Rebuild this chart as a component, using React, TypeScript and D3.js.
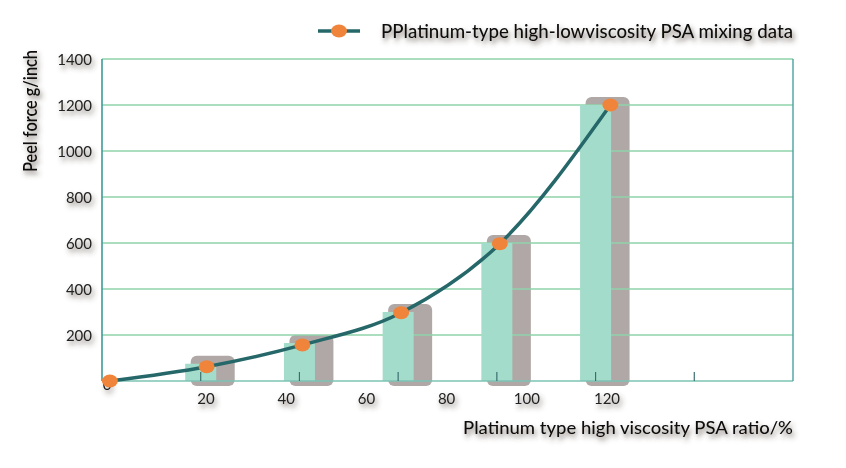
import * as d3 from "d3";

// bar heights (peel force g/inch) at category positions 1..5
const barValues = [75, 165, 300, 600, 1200];
// measured line points: x in category units, y in g/inch
const lineX = [0.08, 1.06, 2.03, 3.03, 4.03, 5.15];
const lineY = [0, 62, 157, 297, 597, 1200];
const xLabels = [20, 40, 60, 80, 100, 120];
const yTicks = [200, 400, 600, 800, 1000, 1200, 1400];
const tickSlots = [1, 2, 3, 4, 5, 6];

const W = 846;
const H = 468;
const FONT = "Lato, 'Liberation Sans', sans-serif";

export default function App() {
  const x = d3.scaleLinear().domain([0, 7]).range([102, 793]);
  const y = d3.scaleLinear().domain([0, 1400]).range([381, 59]);
  const xl = d3.scaleLinear().domain([20, 120]).range([206, 607]);

  const pts: [number, number][] = lineX.map((v, i) => [x(v), y(lineY[i])]);
  const line = d3.line().curve(d3.curveMonotoneX)(pts) || "";

  const bw = 31;

  return (
    <svg width={W} height={H} style={{ position: "absolute", left: 0, top: 0 }}>
      <defs>
        <filter id="ts" x="-20%" y="-40%" width="140%" height="200%">
          <feDropShadow dx="2" dy="3.5" stdDeviation="2.4" floodColor="#4a3a30" floodOpacity="0.7" />
        </filter>
      </defs>
      <rect width={W} height={H} fill="#fff" />

      {/* grey shadow boxes */}
      {barValues.map((v, i) => {
        const cx = x(i + 1);
        return (
          <rect key={"s" + i} x={cx - 10} y={y(v) - 8} width={44}
            height={y(0) + 5 - (y(v) - 8)} rx={6} fill="#b0a8a6" />
        );
      })}

      {/* gridlines */}
      {yTicks.map((t) => (
        <line key={t} x1={x(0)} x2={x(7)} y1={y(t)} y2={y(t)} stroke="#8fd3aa" strokeWidth={1.6} />
      ))}

      {/* green bars */}
      {barValues.map((v, i) => {
        const cx = x(i + 1);
        return (
          <rect key={"b" + i} x={cx - bw / 2} y={y(v)} width={bw}
            height={y(0) - y(v)} fill="#a3dccb" />
        );
      })}

      {/* axes */}
      <line x1={x(0)} x2={x(7)} y1={y(0)} y2={y(0)} stroke="#7cc3b4" strokeWidth={1.6} />
      <line x1={x(0)} x2={x(0)} y1={y(1400)} y2={y(0)} stroke="#3f9a9a" strokeWidth={1.6} />
      <line x1={x(7)} x2={x(7)} y1={y(1400)} y2={y(0)} stroke="#4aa3a3" strokeWidth={1.4} />
      {tickSlots.map((t) => (
        <line key={t} x1={x(t)} x2={x(t)} y1={y(0) - 9} y2={y(0)} stroke="#3b6f6f" strokeWidth={1.2} />
      ))}

      {/* tick labels */}
      <g fontFamily={FONT} fontSize={15} fill="#222" filter="url(#ts)">
        {yTicks.map((t) => (
          <text key={t} x={92} y={y(t)} textAnchor="end" dominantBaseline="central">{t}</text>
        ))}
        <text x={107} y={384} textAnchor="middle" dominantBaseline="central">0</text>
        {xLabels.map((l) => (
          <text key={l} x={xl(l)} y={398} textAnchor="middle" dominantBaseline="central">{l}</text>
        ))}
      </g>

      {/* line + dots */}
      <path d={line} fill="none" stroke="#26686a" strokeWidth={3.5} />
      {pts.map((p, i) => (
        <ellipse key={i} cx={p[0]} cy={p[1]} rx={8} ry={6.5} fill="#f0843a" />
      ))}

      {/* titles */}
      <g fontFamily={FONT} fill="#111" filter="url(#ts)">
        <text x={0} y={0} transform="translate(29,111) rotate(-90)" textAnchor="middle"
          dominantBaseline="central" fontSize={19} fontWeight={600} textLength={122} lengthAdjust="spacingAndGlyphs">
          Peel force g/inch
        </text>
        <text x={463} y={427} dominantBaseline="central" fontSize={17} fontWeight={500}
          textLength={330} lengthAdjust="spacingAndGlyphs">
          Platinum type high viscosity PSA ratio/%
        </text>
        <text x={381} y={30} dominantBaseline="central" fontSize={19} fontWeight={500}
          textLength={412} lengthAdjust="spacingAndGlyphs">
          PPlatinum-type high-lowviscosity PSA mixing data
        </text>
      </g>

      {/* legend symbol */}
      <line x1={318} x2={360} y1={31} y2={31} stroke="#26686a" strokeWidth={3.5} />
      <ellipse cx={339} cy={31} rx={8} ry={6.5} fill="#f0843a" />
    </svg>
  );
}
